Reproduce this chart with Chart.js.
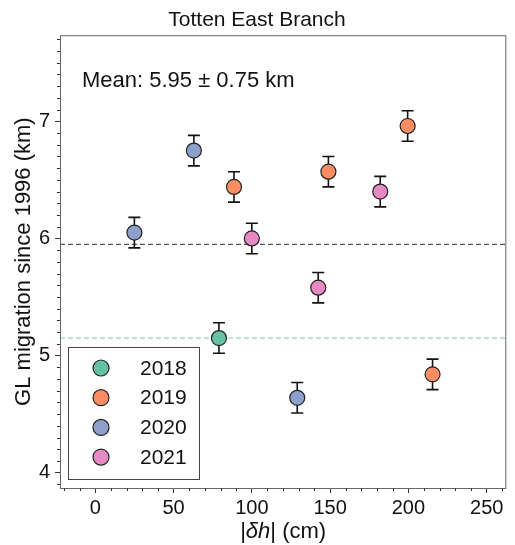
<!DOCTYPE html>
<html>
<head>
<meta charset="utf-8">
<script src="https://cdn.jsdelivr.net/npm/chart.js@4"></script>
<style>
  html, body { margin: 0; padding: 0; background: #fff; }
  #wrap { width: 515px; height: 545px; }
</style>
</head>
<body>
<div id="wrap"><canvas id="glChart" width="515" height="545"></canvas></div>
<script>
// data
const years = ['2018', '2019', '2020', '2021'];
const dh2018 = [79];
const gl2018 = [5.15];
const dh2019 = [88.6, 148.9, 199.5, 215.4];
const gl2019 = [6.44, 6.57, 6.96, 4.84];
const dh2020 = [25, 63, 129];
const gl2020 = [6.05, 6.75, 4.64];
const dh2021 = [100, 142.4, 182];
const gl2021 = [6.00, 5.58, 6.40];
const glErr = 0.13;
const meanGL = 5.95;
const line2018 = 5.15;
const xTicks = [0, 50, 100, 150, 200, 250];
const yTicks = [4, 5, 6, 7];

const FONT = '"Liberation Sans", Arial, sans-serif';
const colors = ['#66c2a5', '#fc8d62', '#8da0cb', '#e78ac3'];

function pts(xs, ys){ return xs.map((x, i) => ({ x: x, y: ys[i] })); }
const series = [pts(dh2018, gl2018), pts(dh2019, gl2019), pts(dh2020, gl2020), pts(dh2021, gl2021)];

// dashed reference lines + error bars, under the markers
const underlay = {
    id: 'underlay',
    beforeDatasetsDraw(chart){
        const ctx = chart.ctx, xs = chart.scales.x, ys = chart.scales.y, a = chart.chartArea;
        ctx.save();
        ctx.lineWidth = 1.3;
        ctx.setLineDash([5, 3]);
        [[meanGL, '#555'], [line2018, '#8fd3bd']].forEach(([v, c]) => {
            const y = ys.getPixelForValue(v);
            ctx.strokeStyle = c;
            ctx.beginPath(); ctx.moveTo(a.left, y); ctx.lineTo(a.right, y); ctx.stroke();
        });
        ctx.setLineDash([]);
        ctx.strokeStyle = '#111';
        ctx.lineWidth = 1.6;
        series.forEach(s => s.forEach(p => {
            const x = xs.getPixelForValue(p.x);
            const y1 = ys.getPixelForValue(p.y - glErr), y2 = ys.getPixelForValue(p.y + glErr);
            ctx.beginPath();
            ctx.moveTo(x, y1); ctx.lineTo(x, y2);
            ctx.moveTo(x - 6, y1); ctx.lineTo(x + 6, y1);
            ctx.moveTo(x - 6, y2); ctx.lineTo(x + 6, y2);
            ctx.stroke();
        }));
        ctx.restore();
    }
};

// frame, minor ticks, annotation, legend, x title
const overlay = {
    id: 'overlay',
    afterDraw(chart){
        const ctx = chart.ctx, xs = chart.scales.x, ys = chart.scales.y, a = chart.chartArea;
        ctx.save();
        ctx.strokeStyle = '#666';
        ctx.lineWidth = 1;
        ctx.strokeRect(a.left + 0.5, a.top + 0.5, a.right - a.left - 1, a.bottom - a.top);

        ctx.strokeStyle = '#333';
        ctx.beginPath();
        for(let v = -20; v <= 260; v += 10){
            if(v % 50 === 0) continue;
            const x = Math.round(xs.getPixelForValue(v)) + 0.5;
            ctx.moveTo(x, a.bottom); ctx.lineTo(x, a.bottom + 3);
        }
        for(let k = 39; k <= 77; k++){
            if(k % 10 === 0) continue;
            const y = Math.round(ys.getPixelForValue(k / 10)) + 0.5;
            ctx.moveTo(a.left, y); ctx.lineTo(a.left - 3, y);
        }
        ctx.stroke();

        ctx.fillStyle = '#111';
        ctx.font = '22px ' + FONT;
        ctx.textBaseline = 'alphabetic';
        ctx.textAlign = 'left';
        ctx.fillText('Mean: 5.95 \u00b1 0.75 km', a.left + 22, a.top + 52);

        // legend box
        const lx = 68, ly = 347, lw = 131, lh = 132;
        ctx.fillStyle = '#fff';
        ctx.fillRect(lx, ly, lw, lh);
        ctx.strokeStyle = '#444';
        ctx.strokeRect(lx + 0.5, ly + 0.5, lw, lh);
        years.forEach((yr, i) => {
            const cy = 368 + i * 29.7;
            ctx.beginPath();
            ctx.arc(101, cy, 8, 0, Math.PI * 2);
            ctx.fillStyle = colors[i];
            ctx.fill();
            ctx.lineWidth = 1.2;
            ctx.strokeStyle = '#222';
            ctx.stroke();
            ctx.fillStyle = '#111';
            ctx.font = '21px ' + FONT;
            ctx.textBaseline = 'middle';
            ctx.fillText(yr, 140, cy + 1);
        });

        // x axis title with italic delta h
        const parts = [['|', 'normal'], ['\u03b4h', 'italic'], ['| (cm)', 'normal']];
        let total = 0;
        parts.forEach(p => { ctx.font = p[1] + ' 22px ' + FONT; total += ctx.measureText(p[0]).width; });
        let x = (a.left + a.right) / 2 - total / 2;
        ctx.textBaseline = 'middle';
        ctx.fillStyle = '#111';
        parts.forEach(p => {
            ctx.font = p[1] + ' 22px ' + FONT;
            ctx.fillText(p[0], x, 532);
            x += ctx.measureText(p[0]).width;
        });
        ctx.restore();
    }
};

new Chart(document.getElementById('glChart'), {
    type: 'scatter',
    data: {
        datasets: years.map((yr, i) => ({
            label: yr,
            data: series[i],
            backgroundColor: colors[i],
            borderColor: '#222',
            borderWidth: 1.2,
            pointRadius: 7.5,
            pointHoverRadius: 7.5
        }))
    },
    options: {
        responsive: false,
        animation: false,
        layout: { padding: { left: 0, right: 1, top: 0, bottom: 0 } },
        plugins: {
            legend: { display: false },
            tooltip: { enabled: false },
            title: {
                display: true,
                text: 'Totten East Branch',
                color: '#111',
                font: { family: FONT, size: 21, weight: 'normal' },
                padding: { top: 8, bottom: 2 }
            }
        },
        scales: {
            x: {
                type: 'linear',
                min: -22.5, max: 262.5,
                afterBuildTicks: s => { s.ticks = xTicks.map(v => ({ value: v })); },
                afterFit: s => { s.height = 57; },
                grid: { drawOnChartArea: false, drawTicks: true, tickLength: 5, color: '#333' },
                border: { display: false },
                ticks: { color: '#111', padding: 3, maxRotation: 0, font: { family: FONT, size: 20 } }
            },
            y: {
                type: 'linear',
                min: 3.87, max: 7.735,
                afterBuildTicks: s => { s.ticks = yTicks.map(v => ({ value: v })); },
                afterFit: s => { s.width = 60; },
                grid: { drawOnChartArea: false, drawTicks: true, tickLength: 5, color: '#333' },
                border: { display: false },
                ticks: { color: '#111', padding: 5, font: { family: FONT, size: 20 } },
                title: {
                    display: true,
                    text: 'GL migration since 1996 (km)',
                    color: '#111',
                    font: { family: FONT, size: 22 },
                    padding: { top: 11, bottom: 0 }
                }
            }
        }
    },
    plugins: [underlay, overlay]
});
</script>
</body>
</html>
